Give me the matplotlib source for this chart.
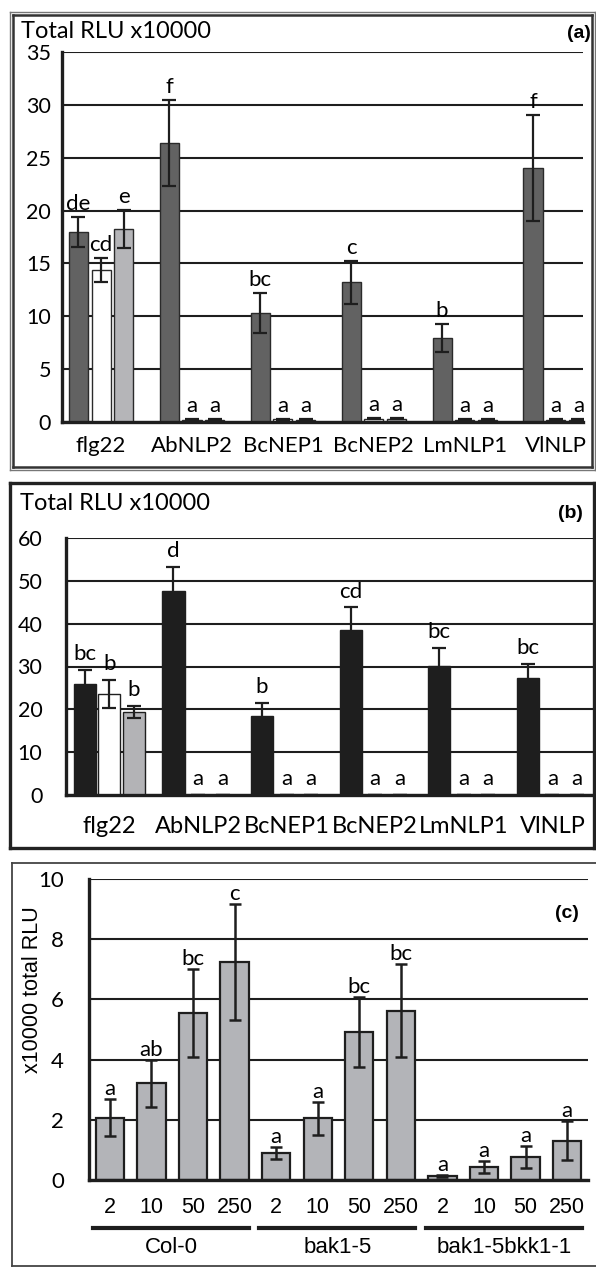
import numpy as np
import matplotlib.pyplot as plt
from matplotlib.lines import Line2D

# ---- data -------------------------------------------------------------
peptides = ["flg22", "AbNLP2", "BcNEP1", "BcNEP2", "LmNLP1", "VlNLP"]

# panel (a): three series per peptide
a_s1 = [18.0, 26.4, 10.3, 13.2, 7.95, 24.0]
a_s1_err = [1.4, 4.1, 1.9, 2.05, 1.3, 5.0]
a_s2 = [14.4, 0.2, 0.25, 0.3, 0.2, 0.2]
a_s2_err = [1.15, 0.05, 0.05, 0.05, 0.05, 0.05]
a_s3 = [18.3, 0.2, 0.2, 0.3, 0.2, 0.2]
a_s3_err = [1.8, 0.05, 0.05, 0.05, 0.05, 0.05]
a_let1 = ["de", "f", "bc", "c", "b", "f"]
a_let2 = ["cd", "a", "a", "a", "a", "a"]
a_let3 = ["e", "a", "a", "a", "a", "a"]

# panel (b)
b_s1 = [25.9, 47.7, 18.4, 38.5, 30.1, 27.2]
b_s1_err = [3.3, 5.6, 3.1, 5.3, 4.3, 3.4]
b_s2 = [23.5, 0, 0, 0, 0, 0]
b_s2_err = [3.3, 0, 0, 0, 0, 0]
b_s3 = [19.4, 0, 0, 0, 0, 0]
b_s3_err = [1.45, 0, 0, 0, 0, 0]
b_let1 = ["bc", "d", "b", "cd", "bc", "bc"]
b_let2 = ["b", "a", "a", "a", "a", "a"]
b_let3 = ["b", "a", "a", "a", "a", "a"]

# panel (c): dose series per genotype
doses = ["2", "10", "50", "250"]
genotypes = ["Col-0", "bak1-5", "bak1-5bkk1-1"]
c_vals = [2.07, 3.21, 5.55, 7.25, 0.9, 2.05, 4.92, 5.62, 0.14, 0.43, 0.76, 1.31]
c_err = [0.61, 0.77, 1.46, 1.93, 0.2, 0.55, 1.15, 1.55, 0.03, 0.19, 0.36, 0.66]
c_let = ["a", "ab", "bc", "c", "a", "a", "bc", "bc", "a", "a", "a", "a"]

W, H = 596, 1280
CAL = "Lato"
ARIAL = "Liberation Sans"
DARK = "#1e1e1e"

fig = plt.figure(figsize=(W / 100, H / 100), dpi=100)


def px_axes(left, top, right, bottom):
    return fig.add_axes([left / W, 1 - bottom / H, (right - left) / W, (bottom - top) / H])


def frame(left, top, right, bottom, lw, color, sides="lrtb"):
    x0, x1 = left / W, right / W
    y0, y1 = 1 - bottom / H, 1 - top / H
    segs = {"l": ([x0, x0], [y0, y1]), "r": ([x1, x1], [y0, y1]),
            "t": ([x0, x1], [y1, y1]), "b": ([x0, x1], [y0, y0])}
    for s in sides:
        fig.add_artist(Line2D(*segs[s], transform=fig.transFigure, lw=lw, color=color))


def style_axes(ax, ymax, ystep, tickfs, pad):
    ax.set_ylim(0, ymax)
    ax.set_yticks(np.arange(0, ymax + 0.01, ystep))
    ax.yaxis.grid(True, color="#1e1e1e", lw=1.5)
    ax.set_axisbelow(True)
    for s in ["top", "right"]:
        ax.spines[s].set_visible(False)
    for s in ["left", "bottom"]:
        ax.spines[s].set_linewidth(2.4)
        ax.spines[s].set_color(DARK)
    ax.tick_params(length=0, pad=pad, labelsize=tickfs)
    for lab in ax.get_yticklabels():
        lab.set_fontfamily(CAL)


def grouped(ax, series, errs, letters, colors, edge, width, step, lfs, off):
    x = np.arange(len(peptides))
    for k, (vals, err, lets, col) in enumerate(zip(series, errs, letters, colors)):
        xs = x + (k - 1) * step
        ax.bar(xs, vals, width, color=col, edgecolor=edge, lw=1.0, zorder=2)
        ax.errorbar(xs, vals, yerr=err, fmt="none", ecolor=DARK, elinewidth=1.6,
                    capsize=5, capthick=1.6, zorder=3)
        for xi, v, e, t in zip(xs, vals, err, lets):
            ax.annotate(t, (xi, v + e), xytext=(0, off), textcoords="offset points",
                        ha="center", va="baseline", fontsize=lfs, family=CAL)


# ---- panel (a) ---------------------------------------------------------
frame(10, 12, 595, 470, 1.0, "#777777")
frame(13, 15, 592, 467, 1.8, "#333333")
axa = px_axes(62, 52, 583, 422)
grouped(axa, [a_s1, a_s2, a_s3], [a_s1_err, a_s2_err, a_s3_err],
        [a_let1, a_let2, a_let3], ["#626262", "white", "#b5b5b8"], "#2a2a2a",
        0.21, 0.25, 16, 5)
style_axes(axa, 35, 5, 15.5, 8)
axa.set_xlim(-0.43, 5.30)
axa.set_xticks(np.arange(len(peptides)))
axa.set_xticklabels(peptides, fontsize=16, family=CAL)
axa.tick_params(axis="x", pad=10)
fig.text(21 / W, 1 - 32 / H, "Total RLU x10000", fontsize=17, family=CAL, va="center")
fig.text(591 / W, 1 - 34 / H, "(a)", fontsize=14, family=ARIAL, weight="bold",
         ha="right", va="center")

# ---- panel (b) ---------------------------------------------------------
frame(10, 483, 594, 848, 2.4, "#222222")
axb = px_axes(66, 538, 594, 795)
grouped(axb, [b_s1, b_s2, b_s3], [b_s1_err, b_s2_err, b_s3_err],
        [b_let1, b_let2, b_let3], [DARK, "white", "#b3b3b6"], DARK,
        0.25, 0.277, 16, 7)
style_axes(axb, 60, 10, 15.5, 17)
axb.set_xlim(-0.49, 5.47)
axb.set_xticks(np.arange(len(peptides)))
axb.set_xticklabels(peptides, fontsize=17, family=CAL)
axb.tick_params(axis="x", pad=15)
fig.text(20 / W, 1 - 503 / H, "Total RLU x10000", fontsize=17, family=CAL, va="center")
fig.text(583 / W, 1 - 513 / H, "(b)", fontsize=14, family=ARIAL, weight="bold",
         ha="right", va="center")

# ---- panel (c) ---------------------------------------------------------
frame(12, 863, 596, 1266, 1.3, "#444444", sides="ltb")
axc = px_axes(89, 879, 588, 1180)
xc = np.arange(len(c_vals))
axc.bar(xc, c_vals, 0.68, color="#b3b4b8", edgecolor=DARK, lw=1.6, zorder=2)
axc.errorbar(xc, c_vals, yerr=c_err, fmt="none", ecolor=DARK, elinewidth=1.8,
             capsize=4.5, capthick=1.8, zorder=3)
for xi, v, e, t in zip(xc, c_vals, c_err, c_let):
    axc.annotate(t, (xi, v + e), xytext=(0, 3), textcoords="offset points",
                 ha="center", va="baseline", fontsize=16, family=CAL)
style_axes(axc, 10, 2, 16, 18)
axc.set_xlim(-0.5, 11.5)
axc.set_xticks(xc)
axc.set_xticklabels(doses * len(genotypes), fontsize=15.5, family=ARIAL)
axc.tick_params(axis="x", pad=12)
n = len(doses)
for g, name in enumerate(genotypes):
    x0, x1 = g * n - 0.4, g * n + n - 1 + 0.35
    axc.plot([x0, x1], [-0.16, -0.16], color=DARK, lw=3,
             transform=axc.get_xaxis_transform(), clip_on=False)
    axc.text((x0 + x1) / 2, -0.225, name, transform=axc.get_xaxis_transform(),
             ha="center", va="center", fontsize=16, family=ARIAL)
fig.text(33 / W, 1 - 990 / H, "x10000 total RLU", rotation=90, fontsize=15.5,
         family=ARIAL, ha="center", va="center")
fig.text(579 / W, 1 - 913 / H, "(c)", fontsize=14, family=ARIAL, weight="bold",
         ha="right", va="center")

fig.savefig("out.png", dpi=100)
